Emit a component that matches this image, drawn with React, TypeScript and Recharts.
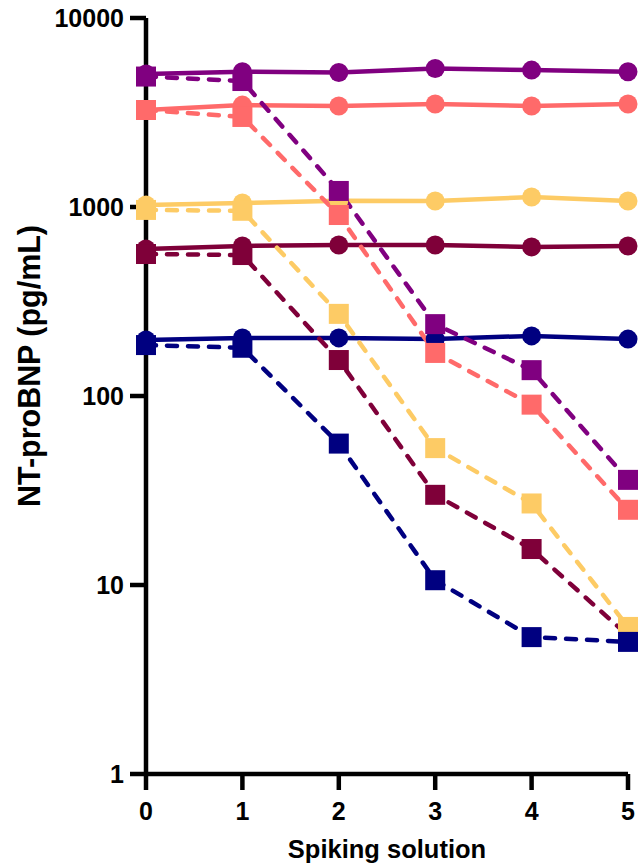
import React from 'react';
import { LineChart, Line, XAxis, YAxis } from 'recharts';

const spiking = [0, 1, 2, 3, 4, 5];
const yTicks = [1, 10, 100, 1000, 10000];

// solid lines (circles)
const purpleSolid = [5060, 5200, 5150, 5400, 5300, 5200];
const salmonSolid = [3260, 3460, 3420, 3510, 3420, 3510];
const yellowSolid = [1025, 1050, 1080, 1075, 1130, 1075];
const wineSolid = [600, 622, 630, 630, 615, 622];
const navySolid = [198, 203, 203, 200, 208, 200];

// dashed lines (squares)
const purpleDash = [4900, 4640, 1216, 240, 137, 36];
const salmonDash = [3260, 2995, 907, 169, 90, 25];
const yellowDash = [965, 955, 272, 53, 27, 6];
const wineDash = [564, 557, 155, 30, 15.5, 5.4];
const navyDash = [186, 180, 56, 10.6, 5.3, 5.0];

const PURPLE = '#800080';
const SALMON = '#ff6a6a';
const YELLOW = '#fdcb65';
const WINE = '#7f0039';
const NAVY = '#000080';

const FONT = '"Liberation Sans", Arial, sans-serif';

const data = spiking.map((x, i) => ({
  x,
  purpleSolid: purpleSolid[i],
  salmonSolid: salmonSolid[i],
  yellowSolid: yellowSolid[i],
  wineSolid: wineSolid[i],
  navySolid: navySolid[i],
  purpleDash: purpleDash[i],
  salmonDash: salmonDash[i],
  yellowDash: yellowDash[i],
  wineDash: wineDash[i],
  navyDash: navyDash[i],
}));

const squareDot = (color: string) => (props: any) => {
  const { cx, cy, index } = props;
  if (cx == null || cy == null) return <g key={index} />;
  return <rect key={index} x={cx - 10} y={cy - 10} width={20} height={20} fill={color} />;
};

const solidSeries = [
  { key: 'purpleSolid', color: PURPLE },
  { key: 'salmonSolid', color: SALMON },
  { key: 'yellowSolid', color: YELLOW },
  { key: 'wineSolid', color: WINE },
  { key: 'navySolid', color: NAVY },
];

// wine drawn before yellow so its last square sits under yellow/navy
const dashSeries = [
  { key: 'purpleDash', color: PURPLE },
  { key: 'salmonDash', color: SALMON },
  { key: 'wineDash', color: WINE },
  { key: 'yellowDash', color: YELLOW },
  { key: 'navyDash', color: NAVY },
];

const YTitle = () => (
  <text
    x={39.5}
    y={366}
    transform="rotate(-90 39.5 366)"
    textAnchor="middle"
    textLength={282}
    lengthAdjust="spacingAndGlyphs"
    style={{ fontFamily: FONT, fontWeight: 700, fontSize: 32, fill: '#000' }}
  >
    NT-proBNP (pg/mL)
  </text>
);

const XTitle = (props: any) => {
  const vb = props.viewBox || { x: 146, y: 774, width: 482 };
  return (
    <text
      x={vb.x + vb.width / 2}
      y={vb.y + 84}
      textAnchor="middle"
      style={{ fontFamily: FONT, fontWeight: 700, fontSize: 25.5, fill: '#000' }}
    >
      Spiking solution
    </text>
  );
};

export default function App() {
  return (
    <div style={{ position: 'absolute', left: 0, top: 0, width: 641, height: 868, background: '#fff' }}>
      <LineChart
        width={641}
        height={868}
        data={data}
        margin={{ top: 18, right: 13, left: 0, bottom: 0 }}
      >
        <XAxis
          dataKey="x"
          type="number"
          domain={[0, 5]}
          ticks={spiking}
          height={94}
          stroke="#000"
          strokeWidth={4.5}
          tickSize={16}
          tickMargin={12}
          tick={{ fill: '#000', fontSize: 25, fontWeight: 700, fontFamily: FONT }}
          label={<XTitle />}
        />
        <YAxis
          type="number"
          scale="log"
          domain={[1, 10000]}
          ticks={yTicks}
          allowDataOverflow
          width={146}
          stroke="#000"
          strokeWidth={4.5}
          tickSize={16}
          tickMargin={6}
          tick={{ fill: '#000', fontSize: 25, fontWeight: 700, fontFamily: FONT }}
          label={<YTitle />}
        />
        {solidSeries.map((s) => (
          <Line
            key={s.key}
            dataKey={s.key}
            type="linear"
            stroke={s.color}
            strokeWidth={4.5}
            dot={{ r: 9.5, fill: s.color, stroke: 'none' }}
            activeDot={false}
            isAnimationActive={false}
          />
        ))}
        {dashSeries.map((s) => (
          <Line
            key={s.key}
            dataKey={s.key}
            type="linear"
            stroke={s.color}
            strokeWidth={4.5}
            strokeDasharray="10 11"
            strokeLinecap="round"
            dot={squareDot(s.color)}
            activeDot={false}
            isAnimationActive={false}
          />
        ))}
      </LineChart>
    </div>
  );
}
